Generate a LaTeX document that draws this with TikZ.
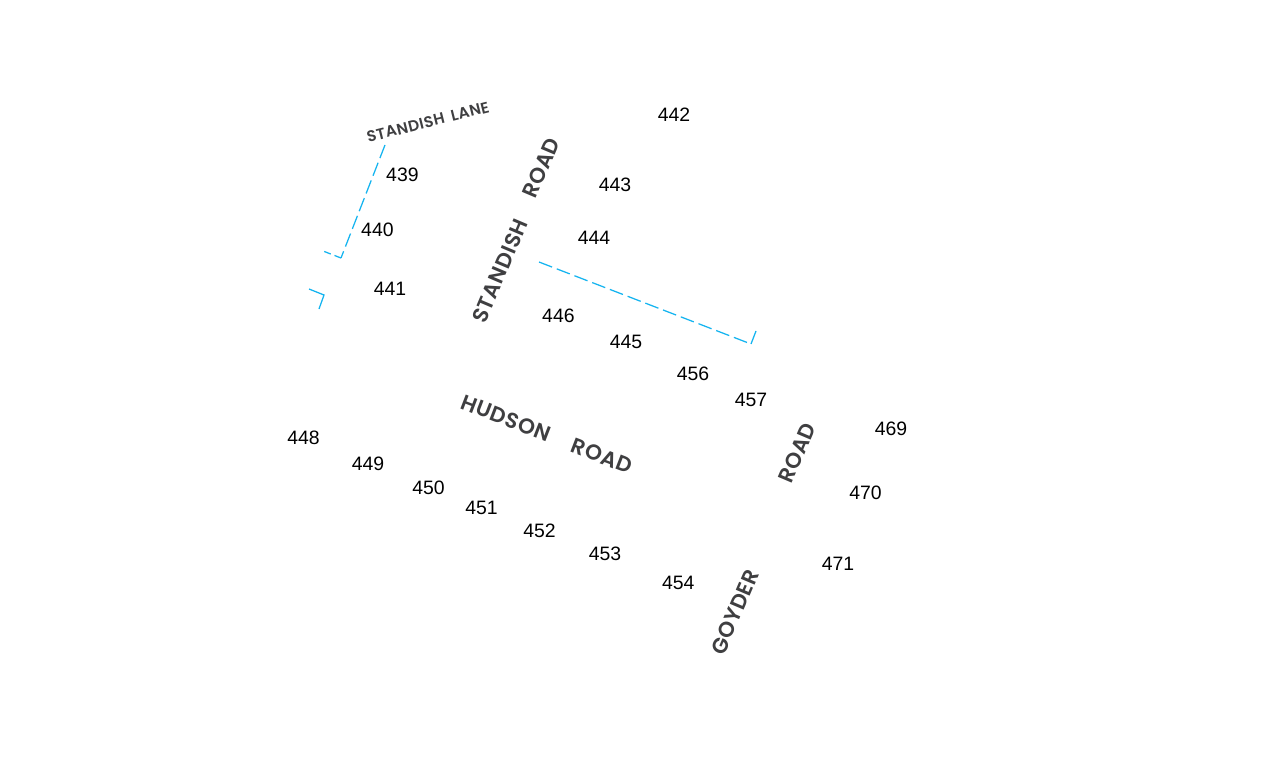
\documentclass[tikz,border=0pt]{standalone}
\usepackage{fontspec}
\setmainfont{Liberation Sans}
\newfontfamily\roadfont[LetterSpace=2.5]{Poppins SemiBold}
\definecolor{plotblue}{HTML}{14B4F0}
\definecolor{roadgrey}{HTML}{3F3F41}
\tikzset{
  lotnum/.style={inner sep=0pt,text=black,font=\fontsize{19.4}{20}\selectfont},
  roadname/.style={inner sep=0pt,text=roadgrey,font=\roadfont\fontsize{21.5}{22}\selectfont},
  lanename/.style={inner sep=0pt,text=roadgrey,font=\roadfont\fontsize{15.5}{16}\selectfont},
  boundary/.style={draw=plotblue,line width=1.25pt,dash pattern=on 14pt off 5pt},
  boundarytick/.style={draw=plotblue,line width=1.25pt}
}
\begin{document}
\begin{tikzpicture}[x=1pt,y=-1pt]
\useasboundingbox (0,0) rectangle (1280,768);
\fill[white] (0,0) rectangle (1280,768);
\coordinate (a1) at (385,145);
\coordinate (a2) at (341,258);
\coordinate (a3) at (323,251);
\coordinate (b1) at (309,289);
\coordinate (b2) at (324,295);
\coordinate (b3) at (319,309);
\coordinate (c1) at (539,262);
\coordinate (c2) at (751,344);
\coordinate (c3) at (756,331);
\draw[boundary] (a1) -- (a2);
\draw[boundary,dash pattern=on 7pt off 4pt] (a2) -- (a3);
\draw[boundarytick] (b1) -- (b2) -- (b3);
\draw[boundary] (c1) -- (c2);
\draw[boundarytick] (c2) -- (c3);
\node[lanename,rotate=14] (lane) at (428,122) {STANDISH\hspace{0.45em}LANE};
\node[roadname,rotate=67] (sr1) at (500,271) {STANDISH};
\node[roadname,rotate=67] (sr2) at (541,168) {ROAD};
\node[roadname,rotate=-21] (hr1) at (506,418) {HUDSON};
\node[roadname,rotate=-21] (hr2) at (602,456) {ROAD};
\node[roadname,rotate=67] (gr1) at (735,612) {GOYDER};
\node[roadname,rotate=67] (gr2) at (797,453) {ROAD};
\node[lotnum] (n439) at (402.4,175) {439};
\node[lotnum] (n440) at (377.4,230) {440};
\node[lotnum] (n441) at (390,289) {441};
\node[lotnum] (n442) at (674,115) {442};
\node[lotnum] (n443) at (615,185) {443};
\node[lotnum] (n444) at (594,238) {444};
\node[lotnum] (n445) at (626,342) {445};
\node[lotnum] (n446) at (558.4,316) {446};
\node[lotnum] (n448) at (303.6,438) {448};
\node[lotnum] (n449) at (368,464) {449};
\node[lotnum] (n450) at (428.6,488) {450};
\node[lotnum] (n451) at (481.6,508) {451};
\node[lotnum] (n452) at (539.6,531) {452};
\node[lotnum] (n453) at (605,554) {453};
\node[lotnum] (n454) at (678.2,583) {454};
\node[lotnum] (n456) at (693,374) {456};
\node[lotnum] (n457) at (751,400) {457};
\node[lotnum] (n469) at (891,429) {469};
\node[lotnum] (n470) at (865.6,493) {470};
\node[lotnum] (n471) at (838,564) {471};
\end{tikzpicture}
\end{document}
